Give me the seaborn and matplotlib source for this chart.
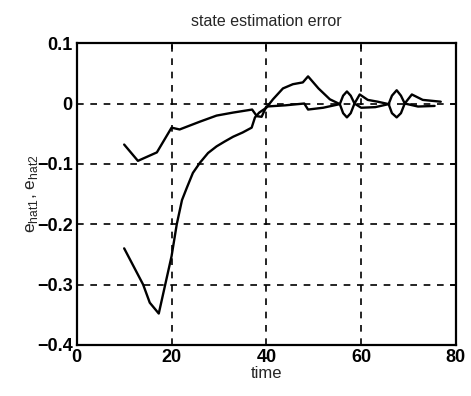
import matplotlib
matplotlib.use("Agg")
import matplotlib.pyplot as plt
import seaborn as sns
import pandas as pd

# e_hat1 (lower curve with deep dip)
t1 = [10, 14, 15.4, 17.3, 20.0, 21.1, 22.2, 23.2, 24.5, 26, 27.7, 29.5, 31.2, 33,
      35, 36.9, 37.6, 38.5, 40, 41.4, 43.5, 45.6, 47.7, 48.8, 51, 53.4, 55.5,
      56.2, 57, 57.8, 58.6, 59.7, 61.4, 63.5, 65.8, 66.5, 67.5, 68.4, 69.2, 70.7,
      73, 76.8]
e1 = [-0.24, -0.30, -0.33, -0.348, -0.253, -0.20, -0.16, -0.140, -0.115, -0.098,
      -0.082, -0.071, -0.063, -0.055, -0.048, -0.04, -0.023, -0.015, -0.007, 0.007,
      0.025, 0.032, 0.035, 0.045, 0.025, 0.007, -0.001, 0.013, 0.02, 0.013, 0.0,
      0.015, 0.006, 0.003, -0.001, 0.013, 0.022, 0.013, 0.0, 0.015, 0.006, 0.003]

# e_hat2 (upper curve)
t2 = [10, 12.9, 16.9, 20, 21.7, 26, 29.5, 33, 37, 38, 39, 40, 44, 48, 48.8, 52,
      55.5, 56.2, 57, 57.8, 58.6, 60, 63, 65.8, 66.5, 67.5, 68.4, 69.2, 72, 75.5]
e2 = [-0.068, -0.095, -0.081, -0.04, -0.043, -0.03, -0.02, -0.015, -0.01, -0.021,
      -0.022, -0.005, -0.003, 0.0, -0.01, -0.007, -0.001, -0.016, -0.023, -0.016,
      0.0, -0.007, -0.006, -0.001, -0.016, -0.023, -0.016, 0.0, -0.005, -0.004]

x_ticks = [0, 20, 40, 60, 80]
y_ticks = [-0.4, -0.3, -0.2, -0.1, 0, 0.1]
y_tick_labels = ["\u22120.4", "\u22120.3", "\u22120.2", "\u22120.1", "0", "0.1"]

sns.set_style("white")
plt.rcParams['font.family'] = ['Liberation Sans', 'DejaVu Sans']

fig = plt.figure(figsize=(4.71, 3.96), dpi=100)
ax = fig.add_axes([0.163, 0.129, 0.805, 0.762])

d1 = pd.DataFrame({"time": t1, "e": e1})
d2 = pd.DataFrame({"time": t2, "e": e2})
sns.lineplot(data=d1, x="time", y="e", color="black", lw=1.7, ax=ax, estimator=None)
sns.lineplot(data=d2, x="time", y="e", color="black", lw=1.7, ax=ax, estimator=None)

ax.set_xlim(0, 80)
ax.set_ylim(-0.4, 0.1)
ax.set_xticks(x_ticks)
ax.set_xticklabels([str(v) for v in x_ticks])
ax.set_yticks(y_ticks)
ax.set_yticklabels(y_tick_labels)
ax.grid(True, color="black", linestyle=(0, (4, 4)), linewidth=1.2)
ax.tick_params(direction="in", length=4, width=1.2, labelsize=13, colors="black",
               right=True, top=True, pad=3)
for lab in ax.get_xticklabels() + ax.get_yticklabels():
    lab.set_fontweight("bold")
for s in ax.spines.values():
    s.set_color("black")
    s.set_linewidth(1.6)

ax.set_title("state estimation error", fontsize=11.5, pad=12)
ax.set_xlabel("time", fontsize=12, labelpad=0)
ax.set_ylabel(r"e$_{\mathregular{hat1}}$, e$_{\mathregular{hat2}}$", fontsize=12.5, labelpad=-2)

fig.savefig("out.png", dpi=100)
